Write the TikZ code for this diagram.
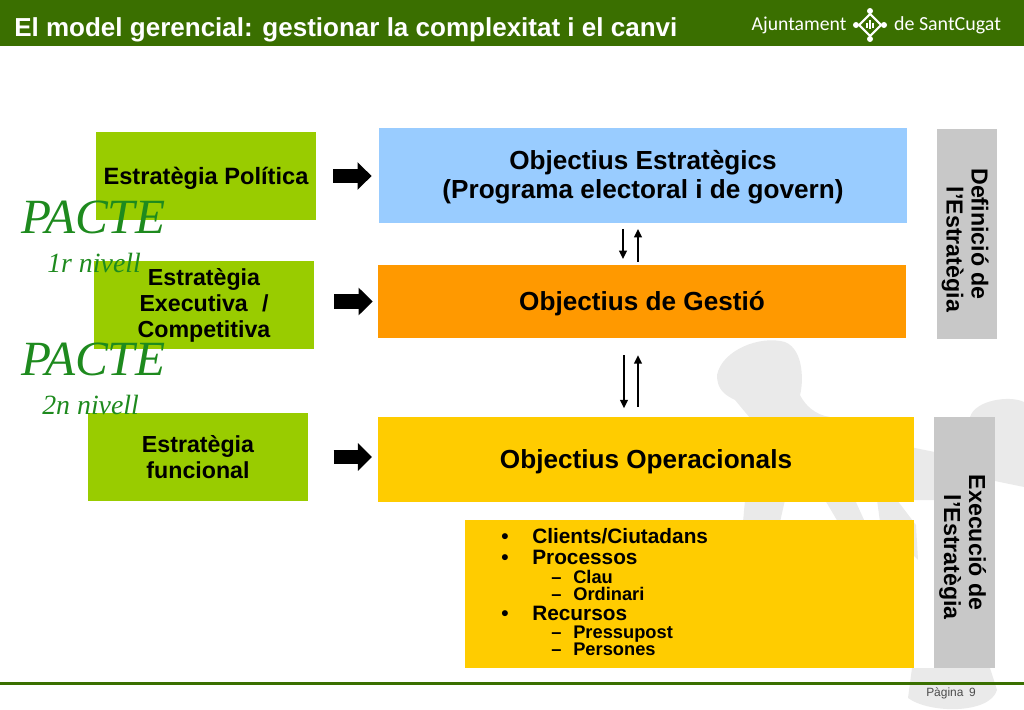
\documentclass[tikz,border=0pt]{standalone}
\usepackage{fontspec}
\usepackage{tikz}
\setmainfont{Liberation Sans}
\newfontfamily\logofont{Carlito}
\newfontfamily\handfont{Liberation Serif}
\usetikzlibrary{
    arrows.meta,
    calc,
    positioning
}
\definecolor{barverd}{HTML}{3A6F00}
\definecolor{verdbox}{HTML}{99CC00}
\definecolor{bluebox}{HTML}{99CCFF}
\definecolor{orangebox}{HTML}{FF9900}
\definecolor{yellowbox}{HTML}{FFCC00}
\definecolor{greybox}{HTML}{C8C8C8}
\definecolor{figura}{HTML}{EAEAEA}
\definecolor{pactegreen}{HTML}{1E8A1E}
\newcommand{\dn}[1]{\rule{0pt}{#1}}
\tikzset{
    box/.style={inner sep=0pt, align=center, font=\bfseries\fontsize{16.5}{18.5}\selectfont},
    greenbox/.style={box, fill=verdbox, minimum width=5.5cm, minimum height=2.2cm},
    bigbox/.style={box, font=\bfseries\fontsize{18.6}{20.5}\selectfont},
    sidebox/.style={box, fill=greybox, rotate=-90, font=\bfseries\fontsize{16.5}{17.8}\selectfont},
    blockarrow/.style={line width=10pt, -{Triangle[length=10pt, width=19pt]}},
    smallarrow/.style={line width=1.2pt, -{Triangle[length=6pt, width=5.5pt]}},
    pacte/.style={inner sep=0pt, anchor=west, text=pactegreen, font=\handfont\itshape\fontsize{35}{35}\selectfont},
    nivell/.style={inner sep=0pt, anchor=west, text=pactegreen, font=\handfont\itshape\fontsize{19.8}{20}\selectfont},
    listline/.style={inner sep=0pt, anchor=base west, font=\bfseries\fontsize{14.8}{16}\selectfont},
    sublistline/.style={inner sep=0pt, anchor=base west, font=\bfseries\fontsize{13}{14}\selectfont}
}
\begin{document}
\begin{tikzpicture}[x=0.025cm, y=-0.025cm]
    \useasboundingbox (0, 0) rectangle (1024, 709);

    % background figure
    \fill[figura] (717, 375) .. controls (722, 350) and (760, 335) .. (785, 342)
        .. controls (805, 350) and (803, 385) .. (800, 395)
        .. controls (805, 405) and (815, 415) .. (830, 417) -- (830, 430) -- (760, 430)
        -- (735, 400) .. controls (725, 395) and (717, 390) .. (717, 375) -- cycle;
    \fill[figura] (900, 445) -- (935, 452) -- (935, 500) -- (900, 500) -- cycle;
    \fill[figura] (970, 417) .. controls (975, 400) and (1010, 395) .. (1024, 402)
        -- (1024, 487) -- (990, 480) -- cycle;
    \fill[figura] (745, 500) -- (785, 500) -- (780, 522) -- (743, 522) -- cycle;
    \fill[figura] (825, 500) -- (855, 500) -- (865, 522) -- (838, 522) -- cycle;
    \fill[figura] (877, 500) -- (897, 500) -- (916, 525) -- (918, 560) -- (880, 522) -- cycle;
    \fill[figura] (912, 668) -- (990, 668) -- (997, 690)
        .. controls (990, 714) and (930, 714) .. (908, 698) -- cycle;

    % title bar
    \fill[barverd] (0, 0) rectangle (1024, 46);
    \node[inner sep=0pt, anchor=base west, text=white, font=\bfseries\fontsize{18.5}{20}\selectfont] (title) at (14, 37) {El model gerencial: gestionar la complexitat i el canvi};
    \node[inner sep=0pt, text=white, font=\logofont\fontsize{14}{16}\selectfont] (ajunt) at (799, 25) {Ajuntament};
    \node[inner sep=0pt, text=white, font=\logofont\fontsize{14.2}{16}\selectfont] (sant) at (947.5, 25) {de SantCugat};
    \draw[white, line width=1.5pt] (870, 14) -- (881, 25) -- (870, 36) -- (859, 25) -- cycle;
    \fill[white] (870, 11) circle (3) (870, 39) circle (3) (856, 25) circle (3) (884, 25) circle (3);
    \draw[white, line width=1pt] (867, 23) -- (867, 28) (870, 20) -- (870, 29) (873, 23) -- (873, 28);

    % left boxes
    \node[greenbox, font=\bfseries\fontsize{16.8}{18.5}\selectfont] (estpol) at (206, 176) {\dn{15pt}Estratègia Política};
    \node[greenbox] (estexe) at (204, 305) {Estratègia\\Executiva\,\, /\\Competitiva};
    \node[greenbox] (estfun) at (198, 457) {Estratègia\\funcional};

    % objectives
    \node[bigbox, fill=bluebox, minimum width=13.2cm, minimum height=2.375cm] (objest) at (643, 175.5) {\dn{16.3pt}Objectius Estratègics\\(Programa electoral i de govern)};
    \node[bigbox, fill=orangebox, minimum width=13.2cm, minimum height=1.825cm] (objges) at (642, 301.5) {\dn{16.3pt}Objectius de Gestió};
    \node[bigbox, fill=yellowbox, minimum width=13.4cm, minimum height=2.125cm] (objope) at (646, 459.5) {\dn{16.3pt}Objectius Operacionals};
    \node[box, fill=yellowbox, minimum width=11.225cm, minimum height=3.7cm] (llista) at (689.5, 594) {};

    % side boxes
    \node[sidebox, minimum width=5.25cm, minimum height=1.5cm] (defin) at (967, 234) {\dn{14.8pt}Definició de\\\hspace*{22pt}l'Estratègia};
    \node[sidebox, minimum width=6.275cm, minimum height=1.525cm] (execu) at (964.5, 542.5) {\dn{14.8pt}Execució de\\\hspace*{21pt}l'Estratègia};

    % list
    \foreach \nm/\ypos/\txt in {a/543/Clients\slash Ciutadans, b/564/Processos, c/620/Recursos} {
        \node[listline] (bul\nm) at (501, \ypos) {•};
        \node[listline] (item\nm) at (532, \ypos) {\txt};
    }
    \foreach \nm/\ypos/\txt in {a/583/Clau, b/600.5/Ordinari, c/638/Pressupost, d/655.5/Persones} {
        \node[sublistline] (das\nm) at (551, \ypos) {–};
        \node[sublistline] (sub\nm) at (573, \ypos) {\txt};
    }

    % arrows
    \draw[blockarrow, shorten <=12pt, shorten >=5pt] (estpol) -- (estpol -| objest.west);
    \draw[blockarrow, shorten <=14pt, shorten >=3.5pt] (objges -| estexe.east) -- (objges);
    \draw[blockarrow, shorten <=18pt, shorten >=4pt] (estfun) -- (estfun -| objope.west);
    \draw[smallarrow, shorten <=4pt, shorten >=4pt] ([xshift=-0.5cm]objest.south) -- ([xshift=-0.5cm]objest.south |- objges.north);
    \draw[smallarrow, shorten <=2pt, shorten >=4pt] ([xshift=-0.1cm]objges.north) -- ([xshift=-0.1cm]objges.north |- objest.south);
    \draw[smallarrow, shorten <=12pt, shorten >=6pt] ([xshift=-0.45cm]objges.south) -- ([xshift=-0.45cm]objges.south |- objope.north);
    \draw[smallarrow, shorten <=7pt, shorten >=12pt] ([xshift=-0.1cm]objges.south |- objope.north) -- ([xshift=-0.1cm]objges.south);

    % pacte
    \node[pacte] (pacte1) at (21, 217) {PACTE};
    \node[nivell] (nivell1) at (47, 263) {1r nivell};
    \node[pacte] (pacte2) at (21, 359) {PACTE};
    \node[nivell] (nivell2) at (42, 405) {2n nivell};

    % footer
    \fill[barverd] (0, 682) rectangle (1024, 684.5);
    \node[inner sep=0pt, text=black!70, font=\fontsize{8.5}{10}\selectfont] (pagina) at (951, 693) {Pàgina\hspace{4pt}9};
\end{tikzpicture}
\end{document}
